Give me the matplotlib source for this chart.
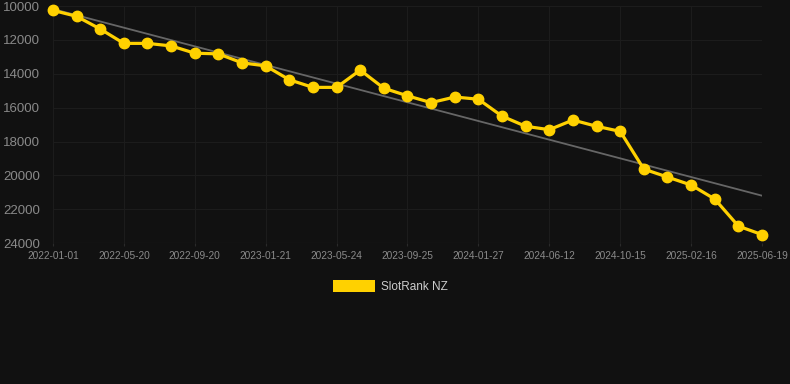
import matplotlib
matplotlib.use("Agg")
import matplotlib.pyplot as plt
from matplotlib.patches import Patch
import numpy as np

plt.rcParams['font.family'] = ['Liberation Sans', 'DejaVu Sans']

# rank values, one per point (evenly spaced)
ranks = [10250, 10600, 11350, 12200, 12200, 12350, 12780, 12820, 13350, 13530,
         14350, 14800, 14800, 13780, 14850, 15300, 15700, 15370, 15500, 16500,
         17100, 17300, 16730, 17100, 17400, 19630, 20100, 20570, 21400, 23000,
         23500]
tick_labels = ['2022-01-01', '2022-05-20', '2022-09-20', '2023-01-21', '2023-05-24',
               '2023-09-25', '2024-01-27', '2024-06-12', '2024-10-15', '2025-02-16',
               '2025-06-19']
y_ticks = [10000, 12000, 14000, 16000, 18000, 20000, 22000, 24000]

bg = '#111111'
yellow = '#FFD100'

fig = plt.figure(figsize=(7.9, 3.84), dpi=100, facecolor=bg)
ax = fig.add_axes([0.067, 0.367, 0.8976, 0.617])
ax.set_facecolor(bg)

x = np.arange(len(ranks))
ax.plot(x, ranks, color=yellow, linewidth=2.3, marker='o', markersize=7.5,
        zorder=3, clip_on=False)

# trend line
k, b = np.polyfit(x, ranks, 1)
ax.plot(x, k * x + b, color='#666666', linewidth=1.3, zorder=2)

ax.set_xlim(0, len(ranks) - 1)
ax.set_ylim(24000, 10000)
ax.set_yticks(y_ticks)
ax.set_yticklabels([str(v) for v in y_ticks])
ax.set_xticks(x[::3])
ax.set_xticklabels(tick_labels)

ax.tick_params(axis='y', colors='#8a8a8a', labelsize=9.5, length=0, pad=9)
ax.tick_params(axis='x', colors='#8a8a8a', labelsize=7.3, length=2, pad=4, color='#2a2a2a')
ax.grid(True, color='#1c1c1c', linewidth=0.8)
for s in ax.spines.values():
    s.set_visible(False)
ax.axhline(24000, color='#2c2c2c', linewidth=0.8)

leg = ax.legend(handles=[Patch(facecolor=yellow, label='SlotRank NZ')],
                loc='upper center', bbox_to_anchor=(0.476, -0.11), frameon=False,
                fontsize=8.5, handlelength=3.5, handleheight=1.2,
                handletextpad=0.5, labelcolor='#cccccc')

fig.savefig('out.png', dpi=100, facecolor=bg)
